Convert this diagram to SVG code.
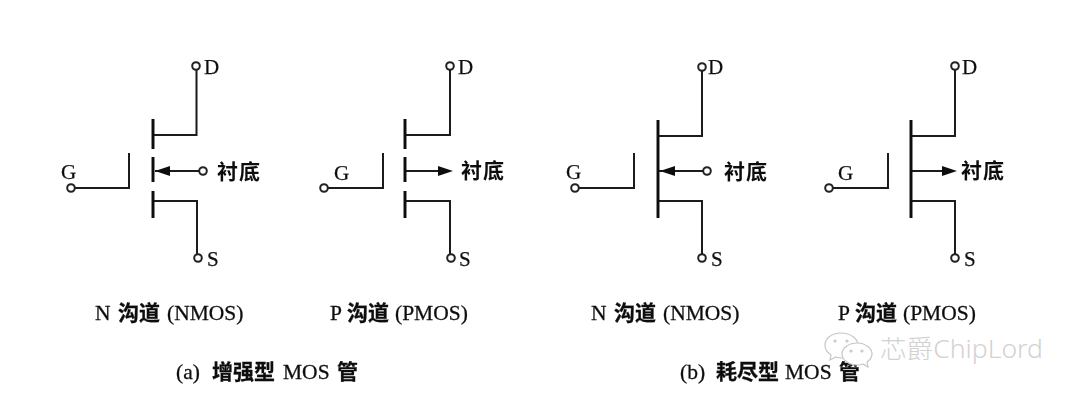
<svg xmlns="http://www.w3.org/2000/svg" width="1080" height="400" viewBox="0 0 1080 400">
<style>
.w{fill:none;stroke:#1a1a1a;stroke-width:2;stroke-linecap:square}
.b{fill:none;stroke:#111;stroke-width:3}
.c{fill:#fff;stroke:#222;stroke-width:2}
.h{fill:#111;stroke:none}
text{fill:#111;font-family:"Liberation Serif","Noto Sans CJK SC",serif}
.t{font-size:21px;stroke:#111;stroke-width:.25}
.z{font-size:21px;font-weight:700}
.l{font-size:21.500px;stroke:#111;stroke-width:.3}
.m{fill:#fff;stroke:#c6c6c6;stroke-width:1.2}
.k{fill:#d2d2d2;font-family:"Noto Sans","Noto Sans CJK SC",sans-serif;font-size:25px;font-weight:300}
</style>
<defs>
<filter id="soft" x="-2%" y="-2%" width="104%" height="104%"><feGaussianBlur stdDeviation="0.4"/></filter>
</defs>
<rect width="1080" height="400" fill="#fff"/>
<g filter="url(#soft)">
<g id="connectors">
<path class="w" d="M71 188H129V154"/>
<path class="w" d="M154 135H196.500V70"/>
<path class="w" d="M154 201H197V254"/>
<path class="w" d="M156 171H198"/>
<path class="w" d="M324 188H383V154"/>
<path class="w" d="M406 135H450V70"/>
<path class="w" d="M406 201H450V254"/>
<path class="w" d="M406 171H442"/>
<path class="w" d="M575 188H634V154"/>
<path class="w" d="M659 136H702V71"/>
<path class="w" d="M659 201H702V254"/>
<path class="w" d="M660 171H702"/>
<path class="w" d="M829 188H888V154"/>
<path class="w" d="M912 136H955V71"/>
<path class="w" d="M912 201H955V254"/>
<path class="w" d="M912 171H948"/>
</g>
<g id="nmos-enh">
<path class="b" d="M153 119V149M153 157V182M153 191V218"/>
<path class="h" d="M155 171L170 166V176Z"/>
<circle class="c" cx="71" cy="188" r="3.800"/><circle class="c" cx="196" cy="66" r="3.800"/><circle class="c" cx="198" cy="258" r="3.800"/><circle class="c" cx="203" cy="171" r="3.800"/>
<text class="t" x="61" y="179">G</text><text class="t" x="204" y="74">D</text><text class="t" x="207" y="266">S</text>
<text class="z" x="217" y="179" textLength="43">衬底</text>
<text class="l" y="320"><tspan x="95">N</tspan><tspan class="z" x="118">沟道</tspan><tspan x="167">(NMOS)</tspan></text>
</g>
<g id="pmos-enh">
<path class="b" d="M405 119V149M405 157V182M405 191V218"/>
<path class="h" d="M453 171L438 166V176Z"/>
<circle class="c" cx="324" cy="188" r="3.800"/><circle class="c" cx="450" cy="66" r="3.800"/><circle class="c" cx="451" cy="258" r="3.800"/>
<text class="t" x="334" y="180">G</text><text class="t" x="458" y="74">D</text><text class="t" x="459" y="266">S</text>
<text class="z" x="461" y="178" textLength="43">衬底</text>
<text class="l" y="320"><tspan x="330">P</tspan><tspan class="z" x="347">沟道</tspan><tspan x="395">(PMOS)</tspan></text>
</g>
<g id="nmos-dep">
<path class="b" d="M658 120V218"/>
<path class="h" d="M660 171L675 166V176Z"/>
<circle class="c" cx="575" cy="188" r="3.800"/><circle class="c" cx="702" cy="67" r="3.800"/><circle class="c" cx="702" cy="258" r="3.800"/><circle class="c" cx="707" cy="171" r="3.800"/>
<text class="t" x="566" y="179">G</text><text class="t" x="708" y="74">D</text><text class="t" x="711" y="266">S</text>
<text class="z" x="724" y="179" textLength="43">衬底</text>
<text class="l" y="320"><tspan x="591">N</tspan><tspan class="z" x="614">沟道</tspan><tspan x="663">(NMOS)</tspan></text>
</g>
<g id="pmos-dep">
<path class="b" d="M911 120V218"/>
<path class="h" d="M957 171L942 166V176Z"/>
<circle class="c" cx="829" cy="188" r="3.800"/><circle class="c" cx="955" cy="66" r="3.800"/><circle class="c" cx="955" cy="258" r="3.800"/>
<text class="t" x="838" y="180">G</text><text class="t" x="962" y="74">D</text><text class="t" x="964" y="266">S</text>
<text class="z" x="961" y="178" textLength="43">衬底</text>
<text class="l" y="320"><tspan x="838">P</tspan><tspan class="z" x="855">沟道</tspan><tspan x="903">(PMOS)</tspan></text>
</g>
<g id="captions">
<text class="l" y="379"><tspan x="176">(a)</tspan><tspan class="z" x="212">增强型</tspan><tspan x="283">MOS</tspan><tspan class="z" x="337">管</tspan></text>
<text class="l" y="379"><tspan x="680">(b)</tspan><tspan class="z" x="716">耗尽型</tspan><tspan x="785">MOS</tspan><tspan class="z" x="839">管</tspan></text>
</g>
</g>
<g id="watermark">
<path class="m" d="M841 333C831 333 825 339 825 345C825 349 828 353 831 355L830 360L836 357C838 358 840 358 843 358C849 358 858 352 858 345C858 339 851 333 841 333Z"/>
<path class="m" d="M857 343C849 343 842 348 842 354C842 360 849 365 857 365C859 365 861 365 863 364L868 367L867 362C870 360 872 357 872 354C872 348 865 343 857 343Z"/>
<circle class="m" cx="835" cy="341" r="1"/><circle class="m" cx="847" cy="341" r="1"/><circle class="m" cx="851" cy="351" r="1"/><circle class="m" cx="862" cy="351" r="1"/>
<text class="k" x="880" y="358" textLength="163" lengthAdjust="spacingAndGlyphs">芯爵ChipLord</text>
</g>
</svg>
